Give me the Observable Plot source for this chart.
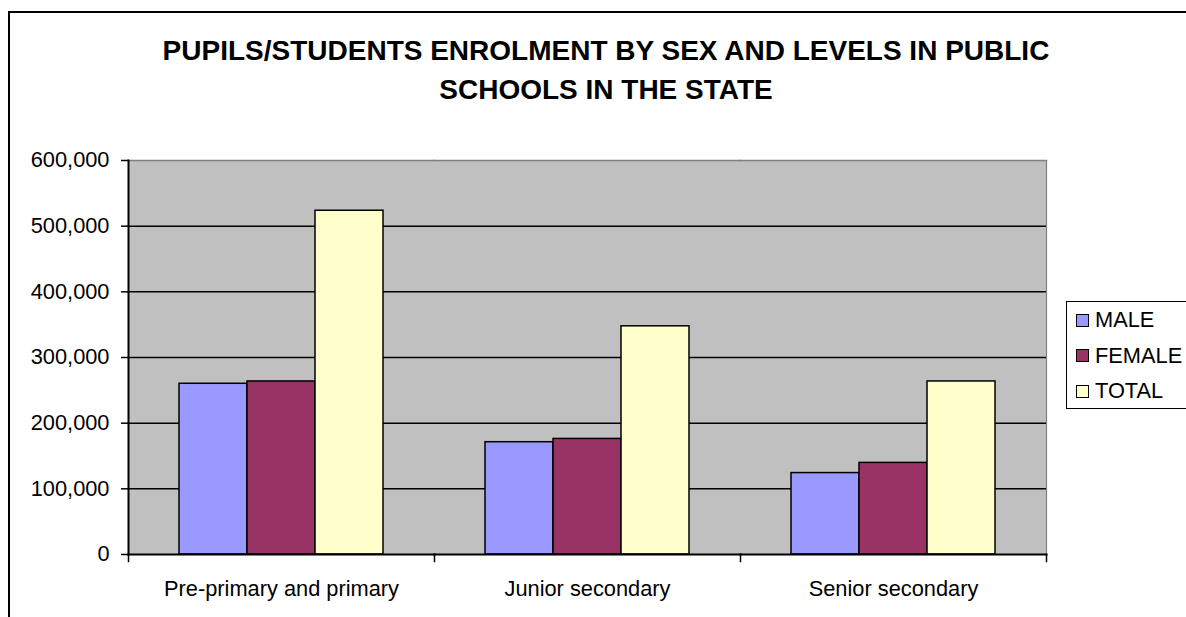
<!DOCTYPE html>
<html>
<head>
<meta charset="utf-8">
<script src="https://cdn.jsdelivr.net/npm/d3@7"></script>
<script src="https://cdn.jsdelivr.net/npm/@observablehq/plot@0.6"></script>
<style>
  html, body { margin: 0; padding: 0; background: #fff; overflow: hidden; width: 1186px; height: 617px; }
  body { position: relative; font-family: "Liberation Sans", Arial, sans-serif; color: #000; }
  #border { position: absolute; left: 8px; top: 11px; width: 1300px; height: 800px; border: 2px solid #000; box-sizing: border-box; pointer-events: none; }
  #title { height: 130px; box-sizing: border-box; padding-top: 31px; padding-left: 26px; text-align: center; font-weight: bold; font-size: 28px; line-height: 39px; }
  #chart svg { display: block; }
  #legend { position: absolute; left: 1066px; top: 301px; width: 220px; height: 108px; border: 1.5px solid #000; background: #fff; box-sizing: border-box; }
  .row { position: absolute; left: 8.5px; height: 35.5px; display: flex; align-items: center; font-size: 21.8px; white-space: nowrap; }
  .sw { width: 13px; height: 13px; border: 1.5px solid #000; box-sizing: border-box; margin-right: 6.5px; }
</style>
</head>
<body>
<div id="border"></div>
<div id="title">PUPILS/STUDENTS ENROLMENT BY SEX AND LEVELS IN PUBLIC<br>SCHOOLS IN THE STATE</div>
<div id="chart"></div>
<div id="legend"></div>
<script>
// ---- data ----
const levels = ["Pre-primary and primary", "Junior secondary", "Senior secondary"];
const series = ["MALE", "FEMALE", "TOTAL"];
const male   = [260000, 171000, 124000];
const female = [263500, 176000, 139500];
const total  = [523500, 347500, 263500];
const yTicks = [0, 100000, 200000, 300000, 400000, 500000, 600000];
const colors = ["#9999ff", "#993366", "#ffffcc"];

const values = {MALE: male, FEMALE: female, TOTAL: total};
const rows = [];
levels.forEach((lv, i) => series.forEach(s => rows.push({level: lv, sex: s, value: values[s][i]})));

// ---- layout ----
const W = 1186, H = 487;
const mTop = 30, mBottom = 63, mLeft = 127, mRight = 139;
const plotH = H - mTop - mBottom;

const chart = Plot.plot({
  width: W,
  height: H,
  marginTop: mTop,
  marginBottom: mBottom,
  marginLeft: mLeft,
  marginRight: mRight,
  style: {fontFamily: "'Liberation Sans', Arial, sans-serif", fontSize: "21.8px", color: "#000", background: "transparent", overflow: "visible"},
  fx: {domain: levels, padding: 0, axis: null},
  x: {domain: series, paddingInner: 0, paddingOuter: 0.733, axis: null},
  y: {domain: [0, 600000], axis: null},
  color: {domain: series, range: colors},
  marks: [
    Plot.frame({fill: "#c0c0c0", stroke: null, shapeRendering: "crispEdges"}),
    Plot.ruleY(yTicks.filter(d => d > 0 && d < 600000), {stroke: "#000", strokeWidth: 1.5}),
    Plot.frame({anchor: "top", stroke: "#808080", strokeWidth: 1.5}),
    Plot.frame({anchor: "right", facetAnchor: "right", stroke: "#808080", strokeWidth: 1.2}),
    Plot.barY(rows, {fx: "level", x: "sex", y: "value", fill: "sex", stroke: "#000", strokeWidth: 1.5}),
    Plot.frame({anchor: "left", facetAnchor: "left", stroke: "#000", strokeWidth: 2}),
    Plot.frame({anchor: "bottom", stroke: "#000", strokeWidth: 2}),
    Plot.frame({anchor: "left", stroke: "#000", strokeWidth: 1.5, insetTop: plotH, insetBottom: -7}),
    Plot.frame({anchor: "right", facetAnchor: "right", stroke: "#000", strokeWidth: 1.5, insetTop: plotH, insetBottom: -7}),
    Plot.axisY({ticks: yTicks, tickFormat: d3.format(","), tickSize: 7, tickPadding: 12, strokeWidth: 1.5, label: null, fontSize: 21.8}),
    Plot.axisFx({anchor: "bottom", tickSize: 0, tickPadding: 26, label: null, fontSize: 21.8})
  ]
});
document.getElementById("chart").appendChild(chart);

// ---- legend ----
const legend = document.getElementById("legend");
series.forEach((s, i) => {
  const row = document.createElement("div");
  row.className = "row";
  row.style.top = (0.25 + i * 35.5) + "px";
  const sw = document.createElement("div");
  sw.className = "sw";
  sw.style.background = colors[i];
  const tx = document.createElement("span");
  tx.textContent = s;
  row.appendChild(sw);
  row.appendChild(tx);
  legend.appendChild(row);
});
</script>
</body>
</html>
